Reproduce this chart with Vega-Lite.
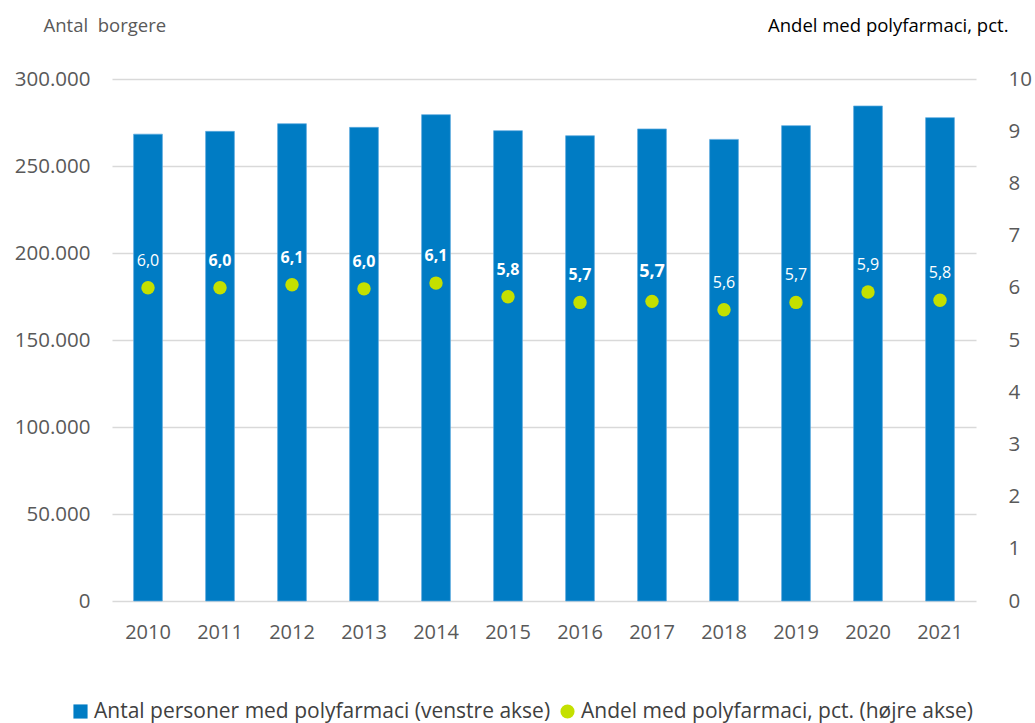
{
  "$schema": "https://vega.github.io/schema/vega-lite/v6.json",
  "autosize": {"type": "none"},
  "width": 864,
  "height": 522,
  "padding": {"left": 112, "top": 79, "right": 59, "bottom": 122},
  "background": "white",
  "config": {
    "font": "Open Sans",
    "view": {"stroke": null},
    "locale": {"number": {"decimal": ",", "thousands": ".", "grouping": [3], "currency": ["", " kr"]}}
  },
  "data": {
    "values": [
      {"year": "2010", "antal": 268300, "andel": 6.0},
      {"year": "2011", "antal": 269900, "andel": 6.0},
      {"year": "2012", "antal": 274300, "andel": 6.06},
      {"year": "2013", "antal": 272200, "andel": 5.98},
      {"year": "2014", "antal": 279500, "andel": 6.09},
      {"year": "2015", "antal": 270300, "andel": 5.83},
      {"year": "2016", "antal": 267400, "andel": 5.72},
      {"year": "2017", "antal": 271300, "andel": 5.74},
      {"year": "2018", "antal": 265300, "andel": 5.58},
      {"year": "2019", "antal": 273200, "andel": 5.72},
      {"year": "2020", "antal": 284500, "andel": 5.92},
      {"year": "2021", "antal": 277800, "andel": 5.76}
    ]
  },
  "encoding": {
    "x": {
      "field": "year", "type": "ordinal",
      "scale": {"paddingInner": 0.6, "paddingOuter": 0.3},
      "axis": {
        "title": null, "labelAngle": 0, "domain": false, "ticks": false, "tickSize": 0,
        "labelFont": "Open Sans", "labelFontSize": 20, "labelColor": "#595959",
        "labelPadding": 31, "labelBaseline": "middle"
      }
    }
  },
  "layer": [
    {
      "mark": {"type": "bar", "color": "#007CC4", "stroke": "#5DAAE0", "strokeWidth": 0.7},
      "encoding": {
        "y": {
          "field": "antal", "type": "quantitative",
          "scale": {"domain": [0, 300000], "nice": false},
          "axis": {
            "values": [0, 50000, 100000, 150000, 200000, 250000, 300000],
            "format": ",.0f",
            "domain": false, "ticks": false, "tickSize": 0,
            "grid": true, "gridColor": "#D9D9D9", "gridWidth": 1.6,
            "labelFont": "Open Sans", "labelFontSize": 20.5, "labelColor": "#595959", "labelPadding": 22,
            "title": "Antal\u00a0 borgere", "titleAngle": 0, "titleAlign": "left", "titleBaseline": "middle",
            "titleX": -69, "titleY": -54, "titleFont": "Open Sans", "titleFontSize": 18.5,
            "titleFontWeight": "normal", "titleColor": "#595959"
          }
        },
        "color": {
          "datum": "Antal personer med polyfarmaci (venstre akse)",
          "scale": {"range": ["#007CC4"]},
          "legend": {
            "title": null, "orient": "none", "legendX": -42, "legendY": 622,
            "symbolType": "square", "symbolSize": 200, "symbolStrokeWidth": 0,
            "labelFont": "Open Sans", "labelFontSize": 21, "labelColor": "#404040", "labelOffset": 3, "labelLimit": 0
          }
        }
      }
    },
    {
      "mark": {"type": "point", "filled": true, "color": "#C4E000", "size": 180, "opacity": 1},
      "encoding": {
        "y": {
          "field": "andel", "type": "quantitative",
          "scale": {"domain": [0, 10], "nice": false},
          "axis": {
            "orient": "right",
            "values": [0, 1, 2, 3, 4, 5, 6, 7, 8, 9, 10],
            "format": "d",
            "domain": false, "ticks": false, "tickSize": 0, "grid": false,
            "labelFont": "Open Sans", "labelFontSize": 20.5, "labelColor": "#595959", "labelPadding": 32,
            "title": "Andel med polyfarmaci, pct.", "titleAngle": 0, "titleAlign": "right", "titleBaseline": "middle",
            "titleX": 32, "titleY": -54, "titleFont": "Open Sans", "titleFontSize": 18.5,
            "titleFontWeight": "normal", "titleColor": "#000000"
          }
        },
        "shape": {
          "datum": "Andel med polyfarmaci, pct. (højre akse)",
          "scale": {"range": ["circle"]},
          "legend": {
            "title": null, "orient": "none", "legendX": 445, "legendY": 622,
            "symbolFillColor": "#C4E000", "symbolStrokeWidth": 0, "symbolSize": 200,
            "labelFont": "Open Sans", "labelFontSize": 21, "labelColor": "#404040", "labelOffset": 3, "labelLimit": 0
          }
        }
      }
    },
    {
      "transform": [{"filter": "datum.year < '2011' || datum.year > '2017'"}],
      "mark": {"type": "text", "color": "white", "font": "Open Sans", "fontSize": 16, "baseline": "middle", "dy": -27},
      "encoding": {
        "y": {"field": "andel", "type": "quantitative", "scale": {"domain": [0, 10], "nice": false}, "axis": null},
        "text": {"field": "andel", "type": "quantitative", "format": ".1f"}
      }
    },
    {
      "transform": [{"filter": "datum.year >= '2011' && datum.year <= '2016'"}],
      "mark": {"type": "text", "color": "white", "font": "Open Sans", "fontSize": 16, "fontWeight": "bold", "baseline": "middle", "dy": -27},
      "encoding": {
        "y": {"field": "andel", "type": "quantitative", "scale": {"domain": [0, 10], "nice": false}, "axis": null},
        "text": {"field": "andel", "type": "quantitative", "format": ".1f"}
      }
    },
    {
      "transform": [{"filter": "datum.year == '2017'"}],
      "mark": {"type": "text", "color": "white", "font": "Open Sans", "fontSize": 18, "fontWeight": "bold", "baseline": "middle", "dy": -29},
      "encoding": {
        "y": {"field": "andel", "type": "quantitative", "scale": {"domain": [0, 10], "nice": false}, "axis": null},
        "text": {"field": "andel", "type": "quantitative", "format": ".1f"}
      }
    }
  ],
  "resolve": {"scale": {"y": "independent", "color": "independent", "shape": "independent"}}
}
